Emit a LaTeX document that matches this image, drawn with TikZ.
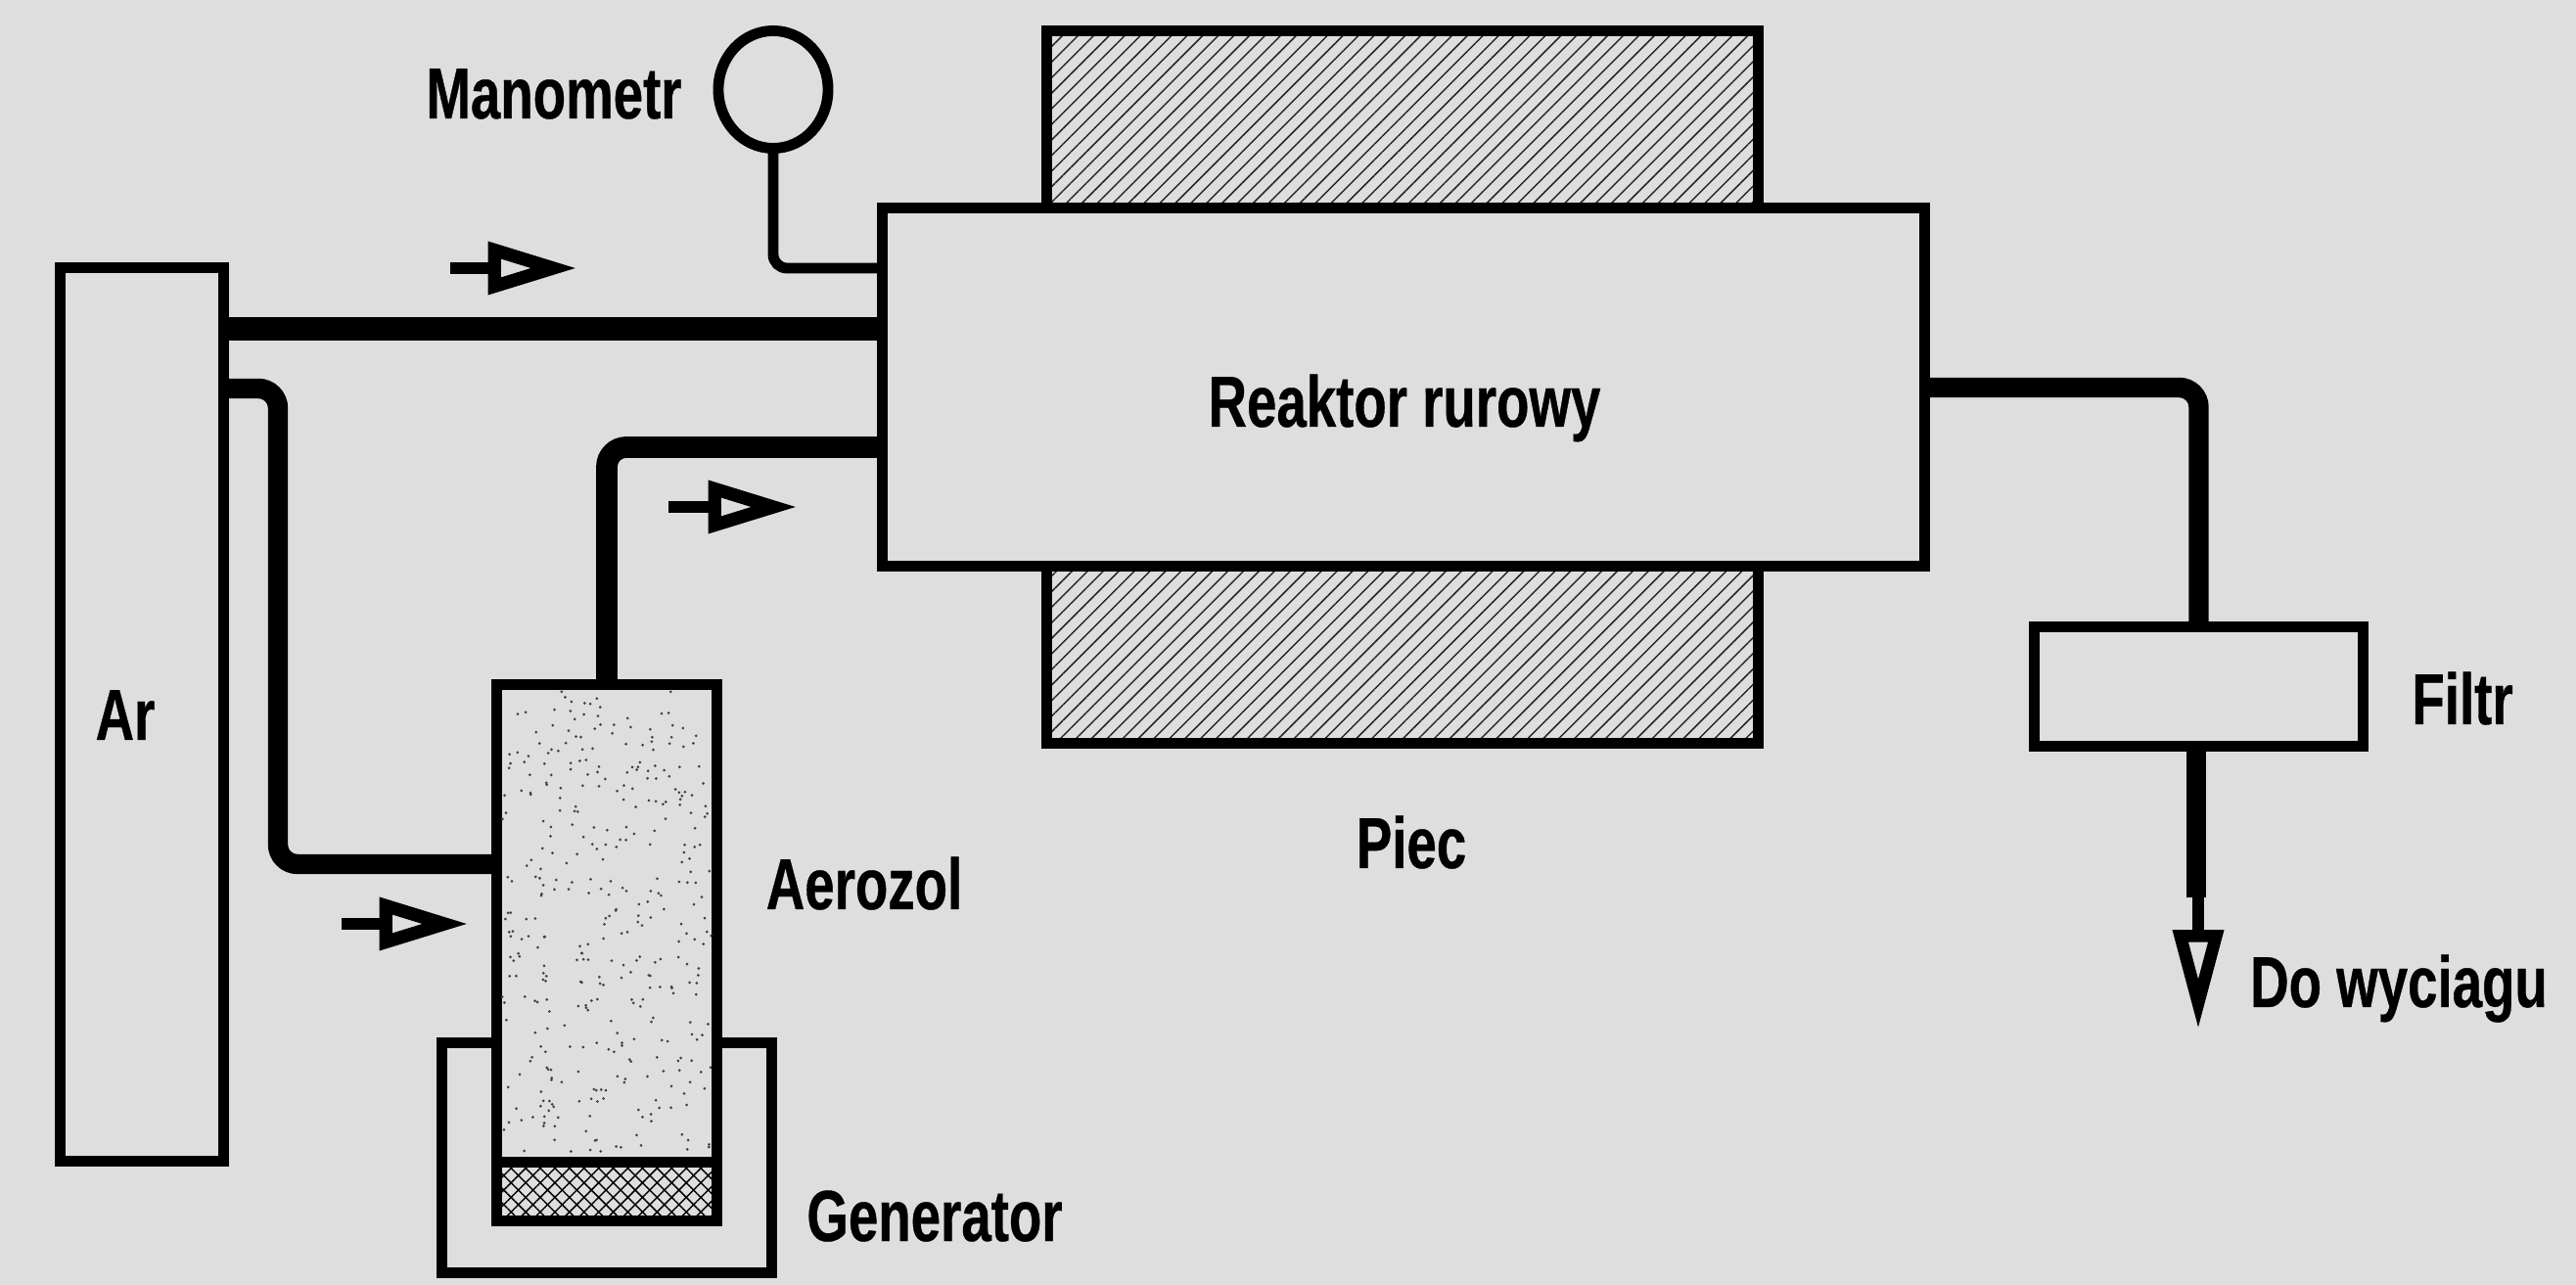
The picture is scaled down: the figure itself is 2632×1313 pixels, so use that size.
\documentclass[tikz,border=0pt]{standalone}
\usepackage{fontspec}
\setmainfont{Liberation Sans}[FakeStretch=0.74, BoldFeatures={FakeBold=0.5}]
\usetikzlibrary{positioning, arrows.meta, shapes.geometric, patterns.meta}
\definecolor{panelgrey}{HTML}{DEDEDE}
\definecolor{speckgrey}{HTML}{404040}

\begin{document}
\begin{tikzpicture}[
    x=0.01cm, y=-0.01cm,
    vessel/.style={draw, rectangle, line width=3.1pt, fill=panelgrey, outer sep=0pt, inner sep=0pt},
    furnace/.style={vessel, minimum width=7.26cm, minimum height=1.9cm, pattern color=black!85, pattern={Lines[angle=45, distance=3.2pt, line width=0.42pt]}},
    caption/.style={font=\bfseries\fontsize{21}{25}\selectfont, inner sep=0pt, anchor=base},
    pipe/.style={line width=5.8pt, rounded corners=0.2cm},
    tube/.style={line width=3.1pt, rounded corners=0.14cm},
    flowarrow/.style={line width=3.4pt, -{Triangle[open, length=26pt, width=14.5pt, line width=3.8pt 0 0]}},
    exitarrow/.style={line width=3.4pt, -{Triangle[open, length=29pt, width=14pt, line width=3.6pt 0 0]}}
]
\fill[panelgrey] (0,0) rectangle (2632,1313);

% furnace
\node[furnace] (piecup) at (1433,126.5) {};
\node[furnace] (piecdown) at (1433,664.5) {};

% main boxes
\node[vessel, minimum width=10.65cm, minimum height=3.65cm] (reaktor) at (1434,395.5) {};
\node[vessel, minimum width=1.67cm, minimum height=9.13cm] (ar) at (145,730) {};
\node[vessel, minimum width=3.36cm, minimum height=2.35cm, fill=none] (generator) at (620,1183) {};
\node[vessel, minimum width=2.25cm, minimum height=5.48cm] (aerozol) at (620,973.5) {};
\node[vessel, minimum width=2.25cm, minimum height=0.6cm, pattern color=black, pattern={Hatch[angle=45, distance=3pt, line width=0.42pt]}] (powder) at (620,1217.5) {};
\node[vessel, minimum width=3.36cm, minimum height=1.22cm] (filtr) at (2246.5,701.5) {};
\node[draw, ellipse, line width=3.1pt, outer sep=0pt, inner sep=0pt, minimum width=1.12cm, minimum height=1.2cm] (manometr) at (790,91.5) {};

% specks in the aerosol
\pgfmathsetseed{4217}
\foreach \i in {1,...,380}{
    \fill[speckgrey] ({513+214*rnd},{706+472*rnd}) circle (0.015cm);
}

% connection points
\coordinate (manin) at (reaktor.west |- 0,274);
\coordinate (arout) at (ar.east |- 0,336);
\coordinate (arin) at (reaktor.west |- 0,336);
\coordinate (arside) at (ar.east |- 0,397);
\coordinate (aerin) at (aerozol.west |- 0,883);
\coordinate (aerout) at (reaktor.west |- 0,457);
\coordinate (reakout) at (reaktor.east |- 0,396);
\coordinate (filtrend) at (2244,917);
\coordinate (exitend) at (2246,1052);

% pipes
\draw[tube] (manometr.south) |- (manin);
\draw[pipe, line width=6.8pt] (arout) -- (arin);
\draw[pipe] (arside) -| (284,883) -- (aerin);
\draw[pipe, line width=6.2pt] (aerozol.north) |- (aerout);
\draw[pipe] (reakout) -| (filtr.north);
\draw[pipe] (2244,768) -- (filtrend);
\draw[exitarrow] (2246,917) -- (exitend);

% flow markers
\coordinate (mark1a) at (460,274);
\coordinate (mark1b) at (590,274);
\coordinate (mark2a) at (683,518);
\coordinate (mark2b) at (815,518);
\coordinate (mark3a) at (349,944);
\coordinate (mark3b) at (479,944);
\draw[flowarrow] (mark1a) -- (mark1b);
\draw[flowarrow] (mark2a) -- (mark2b);
\draw[flowarrow] (mark3a) -- (mark3b);

% labels
\node[caption] (lbman) at (566,121) {Manometr};
\node[caption] (lbreak) at (1435,436) {Reaktor rurowy};
\node[caption] (lbar) at (128,756) {Ar};
\node[caption] (lbaer) at (883,929) {Aerozol};
\node[caption] (lbgen) at (955,1268) {Generator};
\node[caption] (lbpiec) at (1442,887) {Piec};
\node[caption] (lbfiltr) at (2516,740) {Filtr};
\node[caption] (lbdo) at (2451,1029) {Do wyciagu};
\end{tikzpicture}
\end{document}
